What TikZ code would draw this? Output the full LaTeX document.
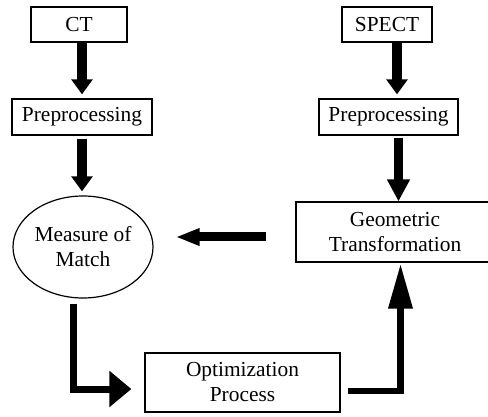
\documentclass[tikz,border=0pt]{standalone}
\usepackage{fontspec}
\setmainfont{Liberation Serif}
\usetikzlibrary{arrows.meta,shapes.geometric}

\tikzset{
  box/.style={draw, line width=1.2pt, inner sep=0pt, align=center,
              font=\fontsize{21.4}{25}\selectfont},
  oval/.style={box, ellipse},
  fat/.style={line width=#1, line join=miter, line cap=butt},
  fat/.default=10.5pt,
  bigtip/.style 2 args={-{Triangle[width=#1, length=#2]}},
}

\begin{document}
\begin{tikzpicture}[x=1pt, y=-1pt]
  \useasboundingbox (0,0) rectangle (488,417);

  % left column
  \node[box, minimum width=96pt, minimum height=35pt] (ct) at (79,24.5) {CT};
  \node[box, minimum width=140pt, minimum height=36pt] (pl) at (82,117) {Preprocessing};
  \node[oval, minimum width=140pt, minimum height=102pt] (mm) at (83,247) {Measure of\\Match};

  % right column
  \node[box, minimum width=90pt, minimum height=35pt] (spect) at (387,24.5) {SPECT};
  \node[box, minimum width=139pt, minimum height=36pt] (pr) at (388.5,117) {Preprocessing};
  \node[box, minimum width=198pt, minimum height=60pt] (geo) at (395,232) {Geometric\\Transformation};

  % bottom
  \node[box, minimum width=195pt, minimum height=59pt] (opt) at (242.5,382.5) {Optimization\\Process};

  % vertical feed arrows
  \draw[fat, bigtip={20.6pt}{15pt}, shorten >=4pt]
    ([xshift=3pt]ct.south) -- ([xshift=3pt]ct.south |- pl.north);
  \draw[fat, bigtip={20.6pt}{15pt}, shorten <=3pt, shorten >=4pt]
    (pl.south) -- (pl.south |- mm.north);
  \draw[fat, bigtip={20.6pt}{15pt}, shorten >=4pt]
    ([xshift=10pt]spect.south) -- ([xshift=10pt]spect.south |- pr.north);
  \draw[fat=9.5pt, bigtip={21.6pt}{22pt}, shorten <=2pt]
    ([xshift=10pt]pr.south) -- ([xshift=10pt]pr.south |- geo.north);

  % transformation back to the similarity measure
  \path ([yshift=-5pt]geo.west) coordinate (gw);
  \draw[fat=9pt, bigtip={16pt}{24pt}, shorten <=29pt, shorten >=22pt]
    (gw) -- (gw -| mm.east);

  % measure to optimizer
  \draw[fat=7pt, bigtip={35pt}{22pt}, shorten <=5pt, shorten >=13pt]
    ([xshift=-10pt]mm.south) |- ([yshift=-6.5pt]opt.west);

  % optimizer to transformation
  \draw[fat=6.5pt, bigtip={23pt}{45pt}, shorten <=7pt, shorten >=1pt]
    ([yshift=-8.5pt]opt.east) -| ([xshift=5.5pt]geo.south);
\end{tikzpicture}
\end{document}
